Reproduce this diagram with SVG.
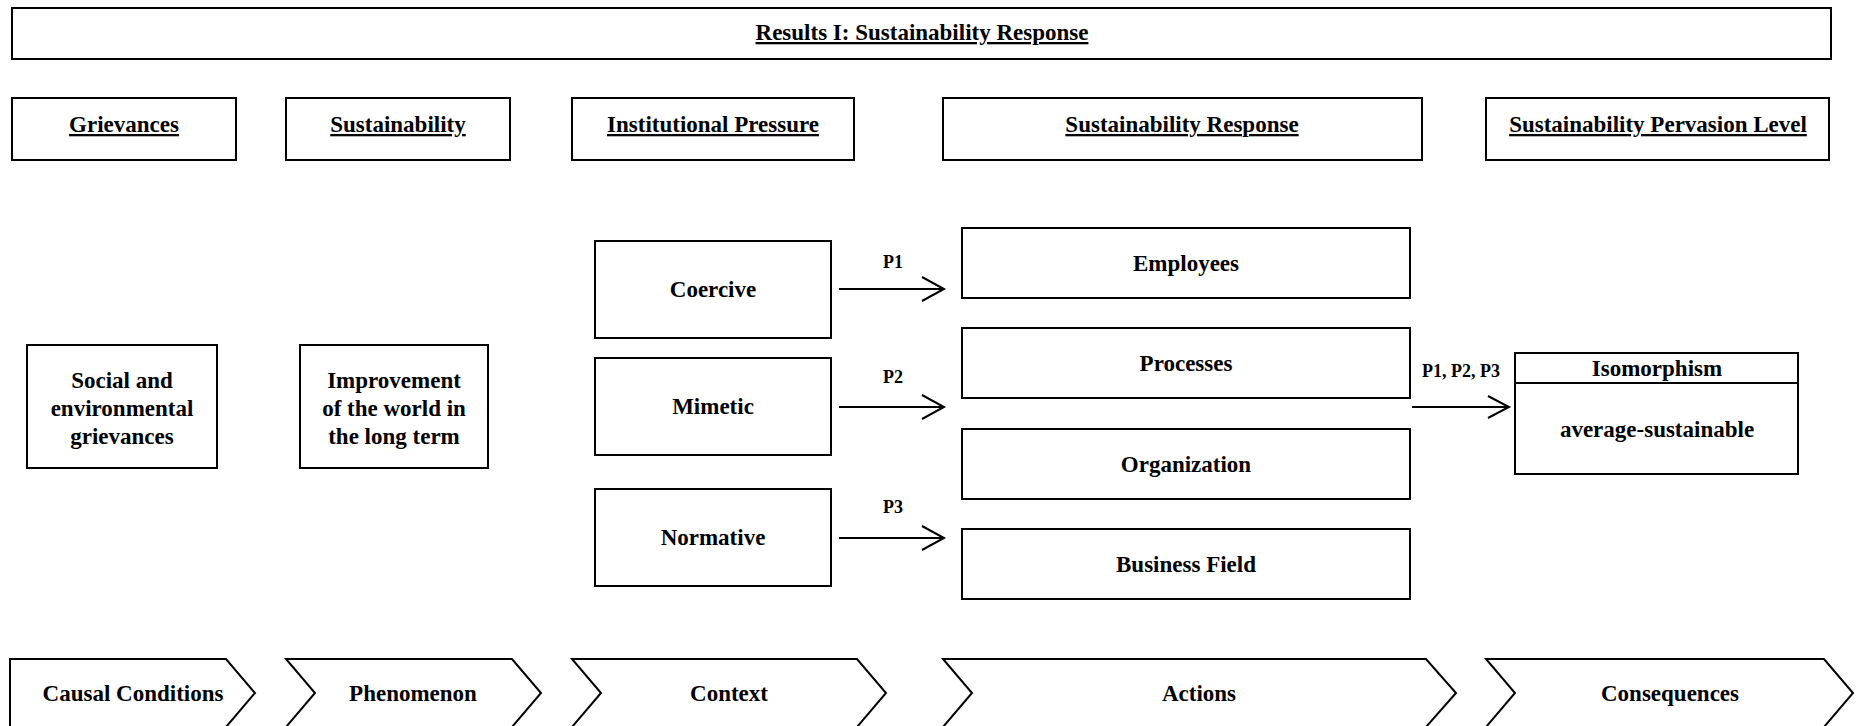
<svg xmlns="http://www.w3.org/2000/svg" width="1858" height="726" viewBox="0 0 1858 726">
<style>
.n, .chev { fill: #fff; stroke: #000; stroke-width: 2; }
text { font-family: "Liberation Serif", "Times New Roman", serif; font-weight: bold; font-size: 23px; fill: #000; text-anchor: middle; }
.u { text-decoration: underline; }
.p { font-size: 18px; }
.conn line, .conn polyline { stroke: #000; stroke-width: 2; fill: none; }
</style>
<rect width="1858" height="726" fill="#fff"/>
<g id="title"><rect class="n" x="12" y="8" width="1819" height="51"/><text class="u" x="922" y="40">Results I: Sustainability Response</text></g>
<g id="h-grievances"><rect class="n" x="12" y="98" width="224" height="62"/><text class="u" x="124" y="132">Grievances</text></g>
<g id="h-sustainability"><rect class="n" x="286" y="98" width="224" height="62"/><text class="u" x="398" y="132">Sustainability</text></g>
<g id="h-institutional"><rect class="n" x="572" y="98" width="282" height="62"/><text class="u" x="713" y="132">Institutional Pressure</text></g>
<g id="h-response"><rect class="n" x="943" y="98" width="479" height="62"/><text class="u" x="1182" y="132">Sustainability Response</text></g>
<g id="h-pervasion"><rect class="n" x="1486" y="98" width="343" height="62"/><text class="u" x="1658" y="132">Sustainability Pervasion Level</text></g>
<g id="social"><rect class="n" x="27" y="345" width="190" height="123"/><text x="122" y="388">Social and</text><text x="122" y="416">environmental</text><text x="122" y="444">grievances</text></g>
<g id="improvement"><rect class="n" x="300" y="345" width="188" height="123"/><text x="394" y="388">Improvement</text><text x="394" y="416">of the world in</text><text x="394" y="444">the long term</text></g>
<g id="coercive"><rect class="n" x="595" y="241" width="236" height="97"/><text x="713" y="297">Coercive</text></g>
<g id="mimetic"><rect class="n" x="595" y="358" width="236" height="97"/><text x="713" y="414">Mimetic</text></g>
<g id="normative"><rect class="n" x="595" y="489" width="236" height="97"/><text x="713" y="545">Normative</text></g>
<g id="employees"><rect class="n" x="962" y="228" width="448" height="70"/><text x="1186" y="271">Employees</text></g>
<g id="processes"><rect class="n" x="962" y="328" width="448" height="70"/><text x="1186" y="371">Processes</text></g>
<g id="organization"><rect class="n" x="962" y="429" width="448" height="70"/><text x="1186" y="472">Organization</text></g>
<g id="businessfield"><rect class="n" x="962" y="529" width="448" height="70"/><text x="1186" y="572">Business Field</text></g>
<g id="isomorphism"><rect class="n" x="1515" y="353" width="283" height="121"/><line x1="1515" y1="383" x2="1798" y2="383" stroke="#000" stroke-width="2"/><text x="1657" y="376">Isomorphism</text><text x="1657" y="437">average-sustainable</text></g>
<g class="conn" id="connectors">
<line x1="839" y1="289" x2="944" y2="289"/><polyline points="922,277 944,289 922,301"/>
<line x1="839" y1="407" x2="944" y2="407"/><polyline points="922,395 944,407 922,419"/>
<line x1="839" y1="538" x2="944" y2="538"/><polyline points="922,526 944,538 922,550"/>
<line x1="1412" y1="407" x2="1509" y2="407"/><polyline points="1488,396 1509,407 1488,418"/>
<text class="p" x="893" y="268">P1</text>
<text class="p" x="893" y="383">P2</text>
<text class="p" x="893" y="513">P3</text>
<text class="p" x="1461" y="377">P1, P2, P3</text>
</g>
<g id="causal"><path class="chev" d="M10,659 H226 L255,693 L226,727 H10 Z"/><text x="133" y="701">Causal Conditions</text></g>
<g id="phenomenon"><path class="chev" d="M286,659 H512 L541,693 L512,727 H286 L315,693 Z"/><text x="413" y="701">Phenomenon</text></g>
<g id="context"><path class="chev" d="M572,659 H857 L886,693 L857,727 H572 L601,693 Z"/><text x="729" y="701">Context</text></g>
<g id="actions"><path class="chev" d="M943,659 H1426 L1456,693 L1426,727 H943 L972,693 Z"/><text x="1199" y="701">Actions</text></g>
<g id="consequences"><path class="chev" d="M1486,659 H1824 L1853,693 L1824,727 H1486 L1515,693 Z"/><text x="1670" y="701">Consequences</text></g>
</svg>
